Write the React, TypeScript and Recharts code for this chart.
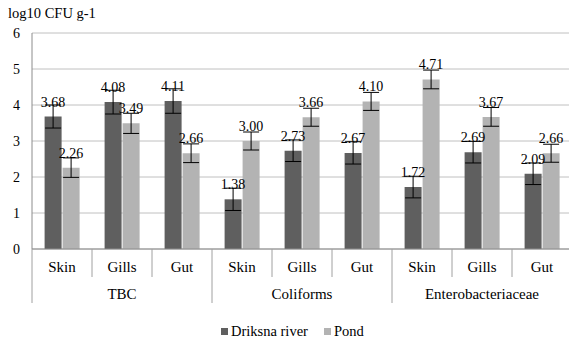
import React from 'react';
import { BarChart, Bar, XAxis, YAxis, CartesianGrid, ErrorBar, LabelList } from 'recharts';

const groups = ['TBC', 'Coliforms', 'Enterobacteriaceae'];
const subs = ['Skin', 'Gills', 'Gut'];
const river = [3.68, 4.08, 4.11, 1.38, 2.73, 2.67, 1.72, 2.69, 2.09];
const pond = [2.26, 3.49, 2.66, 3.0, 3.66, 4.1, 4.71, 3.67, 2.66];
const riverErr = [0.32, 0.33, 0.34, 0.31, 0.3, 0.31, 0.3, 0.3, 0.3];
const pondErr = [0.27, 0.28, 0.26, 0.25, 0.25, 0.25, 0.26, 0.26, 0.25];
const yTicks = [0, 1, 2, 3, 4, 5, 6];
const seriesNames = ['Driksna river', 'Pond'];
const yTitle = 'log10 CFU g-1';

const DARK = '#5f5f5f';
const LIGHT = '#b3b3b3';
const FONT = "'Liberation Serif', 'DejaVu Serif', serif";

const W = 572;
const H = 342;
const Y_AXIS_W = 32;
const MARGIN = { top: 33, right: 0, bottom: 0, left: 0 };
const X_AXIS_H = 93;
const PLOT_W = W - MARGIN.left - MARGIN.right - Y_AXIS_W;

const data = river.map((v, i) => ({
  sub: subs[i % 3],
  group: groups[Math.floor(i / 3)],
  river: v,
  pond: pond[i],
  riverErr: riverErr[i],
  pondErr: pondErr[i],
}));

const band = PLOT_W / data.length;

const XTick = (props: any) => {
  const { x, y, payload, index } = props;
  const i = payload && typeof payload.index === 'number' ? payload.index : index;
  const left = x - band / 2;
  const isGroupStart = i % 3 === 0;
  return (
    <g>
      <line x1={left} x2={left} y1={y} y2={y + (isGroupStart ? 54 : 28)} stroke="#a0a0a0" strokeWidth={1} />
      {i === data.length - 1 && (
        <line x1={x + band / 2} x2={x + band / 2} y1={y} y2={y + 54} stroke="#a0a0a0" strokeWidth={1} />
      )}
      <text x={x} y={y + 23} textAnchor="middle" style={{ fontFamily: FONT }} fontSize={15} fill="#000">
        {payload.value}
      </text>
      {isGroupStart && (
        <text x={x + band} y={y + 50} textAnchor="middle" style={{ fontFamily: FONT }} fontSize={15} fill="#000">
          {data[i].group}
        </text>
      )}
    </g>
  );
};

const fmt = (v: any) => Number(v).toFixed(2);

export default function App() {
  return (
    <div style={{ position: 'fixed', left: 0, top: 0, width: 569, height: 342, overflow: 'hidden', background: '#fff', fontFamily: FONT }}>
      <BarChart width={W} height={H} data={data} margin={MARGIN} barCategoryGap="21%" barGap={1} style={{ fontFamily: FONT }}>
        <CartesianGrid vertical={false} stroke="#c0c0c0" />
        <XAxis
          dataKey="sub"
          height={X_AXIS_H}
          interval={0}
          tickLine={false}
          tickSize={0}
          tickMargin={0}
          axisLine={{ stroke: '#8c8c8c' }}
          tick={<XTick />}
        />
        <YAxis
          width={Y_AXIS_W}
          domain={[0, 6]}
          ticks={yTicks}
          tickLine={false}
          tickSize={0}
          tickMargin={12}
          axisLine={{ stroke: '#8c8c8c' }}
          tick={{ fontFamily: FONT, fontSize: 14, fill: '#000', style: { fontFamily: FONT } }}
          label={{
            content: () => (
              <text x={8} y={18} style={{ fontFamily: FONT }} fontSize={14.5} fill="#000">
                {yTitle}
              </text>
            ),
          }}
        />
        <Bar dataKey="river" name={seriesNames[0]} fill={DARK} isAnimationActive={false}>
          <ErrorBar dataKey="riverErr" width={8} stroke="#000" strokeWidth={1} direction="y" />
          <LabelList dataKey="river" position="top" offset={10} formatter={fmt} style={{ fontFamily: FONT, fontSize: 14, fill: '#000' }} />
        </Bar>
        <Bar dataKey="pond" name={seriesNames[1]} fill={LIGHT} isAnimationActive={false}>
          <ErrorBar dataKey="pondErr" width={8} stroke="#000" strokeWidth={1} direction="y" />
          <LabelList dataKey="pond" position="top" offset={10} formatter={fmt} style={{ fontFamily: FONT, fontSize: 14, fill: '#000' }} />
        </Bar>
      </BarChart>
      <div style={{ position: 'absolute', left: 221, top: 323, display: 'flex', alignItems: 'center', fontFamily: FONT, fontSize: 14.5, color: '#000', whiteSpace: 'nowrap' }}>
        <span style={{ display: 'inline-block', width: 7, height: 7, background: DARK, marginRight: 3 }} />
        <span style={{ marginRight: 16 }}>{seriesNames[0]}</span>
        <span style={{ display: 'inline-block', width: 7, height: 7, background: LIGHT, marginRight: 3 }} />
        <span>{seriesNames[1]}</span>
      </div>
    </div>
  );
}
